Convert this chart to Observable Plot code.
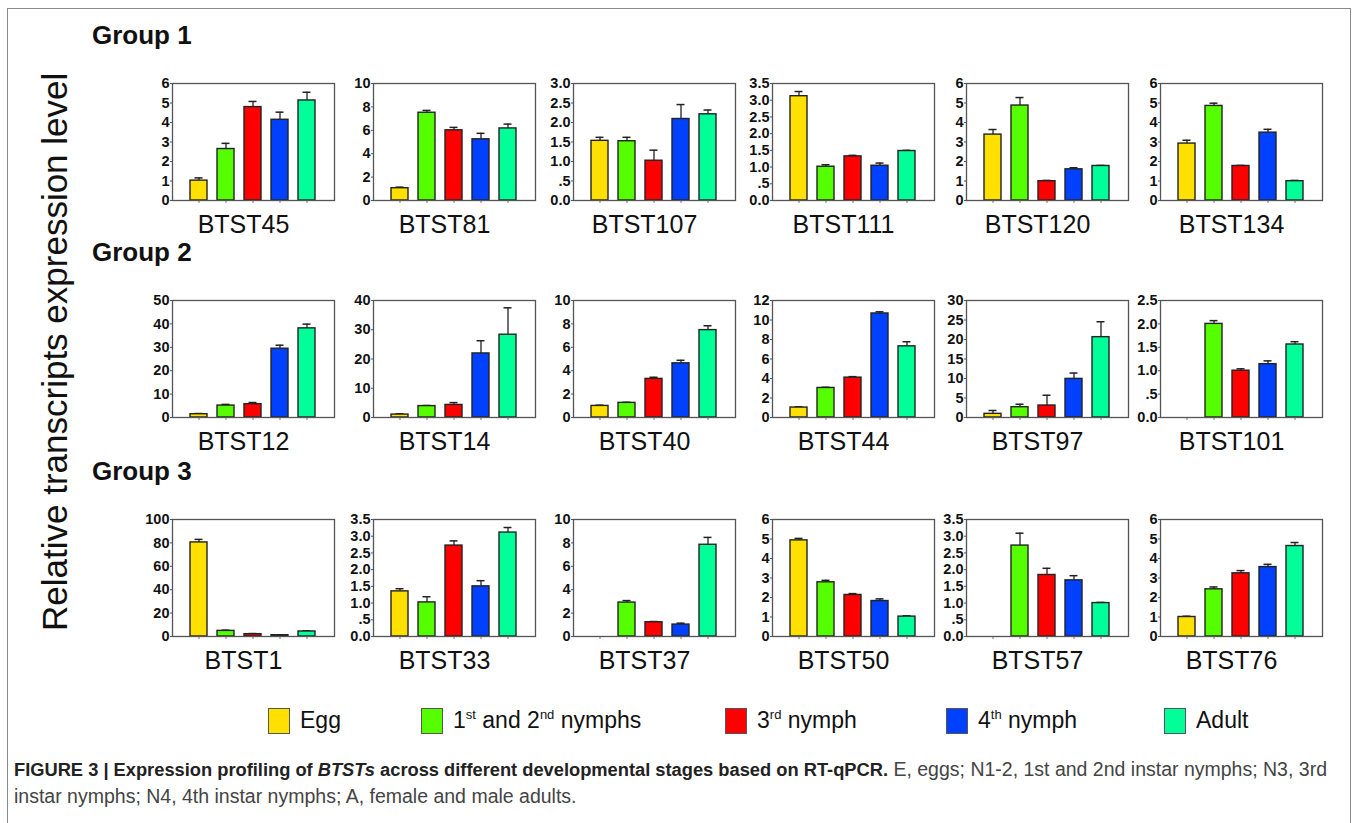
<!DOCTYPE html>
<html>
<head>
<meta charset="utf-8">
<script src="https://cdn.jsdelivr.net/npm/d3@7"></script>
<script src="https://cdn.jsdelivr.net/npm/@observablehq/plot@0.6"></script>
<style>
  html, body { margin: 0; padding: 0; background: #fff; }
  #fig { position: relative; width: 1357px; height: 823px; overflow: hidden; background: #fff;
         font-family: "Liberation Sans", Arial, Helvetica, sans-serif; color: #111; }
  #frame { position: absolute; left: 7px; top: 8px; width: 1342px; height: 840px; border: 1px solid #8a8a8a; }
  .panel { position: absolute; }
  .group { position: absolute; font-weight: bold; font-size: 26px; }
  #ytitle { position: absolute; font-size: 35px; white-space: nowrap; transform-origin: 0 0; }
  .leg { position: absolute; top: 707px; height: 27px; display: flex; align-items: center; font-size: 23px; white-space: nowrap; }
  .sw { width: 22px; height: 26px; border: 1px solid #555; box-sizing: border-box; margin-right: 10px; }
  .leg sup { font-size: 13px; vertical-align: 9px; }
  .cap { position: absolute; left: 14px; font-family: "Liberation Sans Narrow", "Arial Narrow", "Liberation Sans", Arial, sans-serif;
         font-size: 19.5px; color: #444; white-space: nowrap; }
  .cap b { color: #222; font-size: 18.3px; }
</style>
</head>
<body>
<div id="fig">
  <div id="frame"></div>
</div>
<script>
// ---- data ----
const stages = ["Egg", "N1-2", "N3", "N4", "Adult"];
const stageColors = ["#FFE000", "#55FF00", "#FF0000", "#0040FF", "#00FF99"];
const groupNames = ["Group 1", "Group 2", "Group 3"];
const genes = ["BTST45","BTST81","BTST107","BTST111","BTST120","BTST134",
               "BTST12","BTST14","BTST40","BTST44","BTST97","BTST101",
               "BTST1","BTST33","BTST37","BTST50","BTST57","BTST76"];
const yMax  = [6, 10, 3, 3.5, 6, 6,   50, 40, 10, 12, 30, 2.5,   100, 3.5, 10, 6, 3.5, 6];
const yStep = [1, 2, 0.5, 0.5, 1, 1,  10, 10, 2, 2, 5, 0.5,      20, 0.5, 2, 1, 0.5, 1];
const means = [
  [1.02, 2.64, 4.79, 4.14, 5.13],
  [1.05, 7.50, 6.00, 5.23, 6.16],
  [1.53, 1.52, 1.02, 2.09, 2.21],
  [3.12, 1.01, 1.32, 1.04, 1.48],
  [3.38, 4.87, 0.99, 1.60, 1.77],
  [2.92, 4.85, 1.77, 3.48, 0.99],
  [1.40, 5.10, 5.70, 29.4, 38.1],
  [1.00, 3.90, 4.30, 21.9, 28.3],
  [0.99, 1.25, 3.30, 4.63, 7.47],
  [1.02, 3.03, 4.09, 10.67, 7.30],
  [0.94, 2.64, 3.07, 9.90, 20.6],
  [null, 2.00, 1.00, 1.14, 1.56],
  [80.4, 4.80, 2.00, 1.10, 4.30],
  [1.35, 1.02, 2.72, 1.50, 3.11],
  [null, 2.90, 1.22, 1.02, 7.84],
  [4.93, 2.78, 2.13, 1.82, 1.02],
  [null, 2.72, 1.84, 1.68, 1.00],
  [1.00, 2.42, 3.24, 3.56, 4.64]
];
const errs = [
  [0.14, 0.29, 0.29, 0.39, 0.42],
  [0.09, 0.20, 0.25, 0.51, 0.37],
  [0.09, 0.10, 0.27, 0.37, 0.11],
  [0.14, 0.06, 0.03, 0.08, 0.02],
  [0.26, 0.41, 0.04, 0.08, 0.03],
  [0.17, 0.14, 0.03, 0.17, 0.04],
  [0.30, 0.50, 0.70, 1.50, 1.80],
  [0.25, 0.20, 0.80, 4.35, 9.20],
  [0.06, 0.05, 0.14, 0.26, 0.37],
  [0.07, 0.07, 0.10, 0.17, 0.47],
  [0.86, 0.76, 2.63, 1.50, 3.95],
  [null, 0.07, 0.04, 0.07, 0.06],
  [2.60, 0.60, 0.50, 0.30, 0.50],
  [0.08, 0.17, 0.14, 0.17, 0.15],
  [null, 0.17, 0.06, 0.12, 0.63],
  [0.10, 0.10, 0.07, 0.11, 0.04],
  [null, 0.37, 0.20, 0.14, 0.02],
  [0.04, 0.12, 0.14, 0.14, 0.18]
];
const legendLabels = ["Egg", "1<sup>st</sup> and 2<sup>nd</sup> nymphs", "3<sup>rd</sup> nymph", "4<sup>th</sup> nymph", "Adult"];
const yTitle = "Relative transcripts expression level";
const captionBold = "FIGURE 3 | Expression profiling of <i>BTSTs</i> across different developmental stages based on RT-qPCR.";
const captionLine1 = " E, eggs; N1-2, 1st and 2nd instar nymphs; N3, 3rd";
const captionLine2 = "instar nymphs; N4, 4th instar nymphs; A, female and male adults.";

// ---- layout ----
const colLeft = [172, 373, 573, 772, 966, 1160];
const rowTop = [83, 300, 519];
const PW = 162, PH = 117;
const mL = 46, mR = 6, mT = 10, mB = 50;
const groupTop = [20, 237, 456];
const legendX = [268, 421, 725, 946, 1164];

const fig = document.getElementById("fig");

function fmtTick(step) {
  return d => {
    if (step < 1) return d === 0.5 ? ".5" : d.toFixed(1);
    return String(d);
  };
}

genes.forEach((g, i) => {
  const row = Math.floor(i / 6), col = i % 6;
  const data = stages.map((s, j) => ({stage: s, mean: means[i][j], err: errs[i][j]}))
                     .filter(d => d.mean != null);
  const ticks = d3.range(0, yMax[i] + yStep[i] / 2, yStep[i]).map(v => +v.toFixed(2));
  const fmt = fmtTick(yStep[i]);
  const chart = Plot.plot({
    width: mL + PW + mR,
    height: mT + PH + mB,
    marginLeft: mL, marginRight: mR, marginTop: mT, marginBottom: mB,
    style: {fontFamily: "'Liberation Sans', Arial, sans-serif", color: "#111", background: "transparent", overflow: "visible"},
    x: {domain: stages, paddingInner: 0.37, paddingOuter: 0.685},
    y: {domain: [0, yMax[i]]},
    color: {domain: stages, range: stageColors},
    marks: [
      Plot.axisY({ticks, tickFormat: () => "", tickSize: 2, label: null, stroke: "#555"}),
      Plot.text(ticks, {y: d => d, text: fmt, frameAnchor: "left", dx: -3, textAnchor: "end",
                        fontSize: 14.5, fontWeight: "bold", fill: "#111"}),
      Plot.axisX({tickSize: 3, tickFormat: () => "", label: null, stroke: "#777"}),
      Plot.ruleX(data, {x: "stage", y1: "mean", y2: d => d.mean + d.err, stroke: "#222", strokeWidth: 1.3}),
      Plot.tickY(data, {x: "stage", y: d => d.mean + d.err, insetLeft: 4.5, insetRight: 4.5, stroke: "#222", strokeWidth: 1.5}),
      Plot.barY(data, {x: "stage", y: "mean", fill: "stage", stroke: "#222", strokeWidth: 1.4}),
      Plot.frame({stroke: "#555", strokeWidth: 1.3}),
      Plot.text([g], {frameAnchor: "bottom", dy: 32, dx: -10, fontSize: 25, fontWeight: "normal", fill: "#111"})
    ]
  });
  const wrap = document.createElement("div");
  wrap.className = "panel";
  wrap.style.left = (colLeft[col] - mL) + "px";
  wrap.style.top = (rowTop[row] - mT) + "px";
  wrap.appendChild(chart);
  fig.appendChild(wrap);
});

groupNames.forEach((t, k) => {
  const el = document.createElement("div");
  el.className = "group";
  el.textContent = t;
  el.style.left = "92px";
  el.style.top = groupTop[k] + "px";
  fig.appendChild(el);
});

const yt = document.createElement("div");
yt.id = "ytitle";
yt.textContent = yTitle;
fig.appendChild(yt);
{
  const w = yt.offsetWidth;
  yt.style.left = "35px";
  yt.style.top = (352 + w / 2) + "px";
  yt.style.transform = "rotate(-90deg)";
}

legendLabels.forEach((lab, k) => {
  const el = document.createElement("div");
  el.className = "leg";
  el.style.left = legendX[k] + "px";
  el.innerHTML = `<div class="sw" style="background:${stageColors[k]}"></div><span>${lab}</span>`;
  fig.appendChild(el);
});

const c1 = document.createElement("div");
c1.className = "cap";
c1.style.top = "758px";
c1.innerHTML = `<b>${captionBold}</b>${captionLine1}`;
fig.appendChild(c1);
const c2 = document.createElement("div");
c2.className = "cap";
c2.style.top = "785px";
c2.textContent = captionLine2;
fig.appendChild(c2);
</script>
</body>
</html>
